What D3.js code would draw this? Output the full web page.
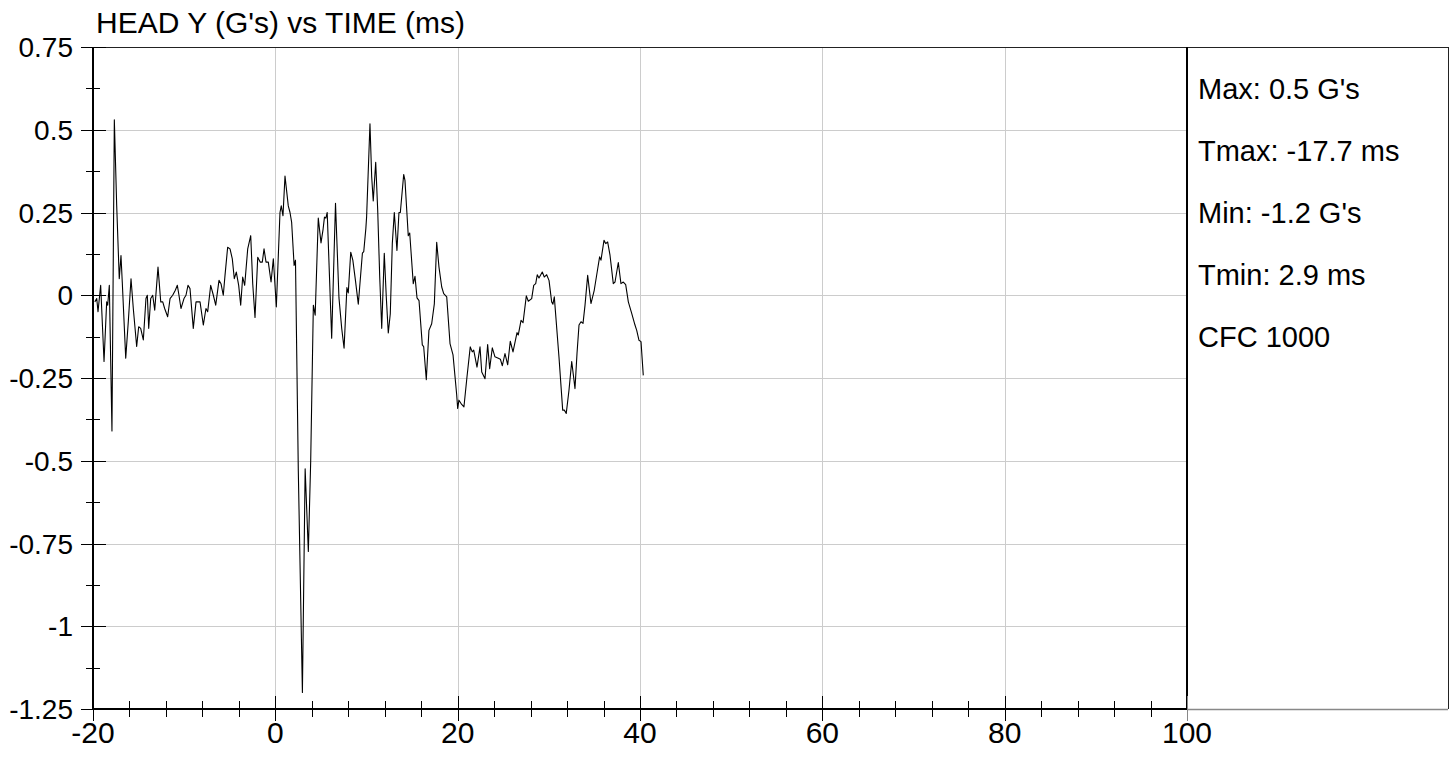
<!DOCTYPE html>
<html>
<head>
<meta charset="utf-8">
<script src="https://cdn.jsdelivr.net/npm/d3@7"></script>
<style>
  html, body { margin: 0; padding: 0; background: #fff; }
  svg { display: block; }
  text { font-family: "Liberation Sans", Arial, sans-serif; fill: #000; }
</style>
</head>
<body>
<svg id="chart" width="1454" height="759"></svg>
<script>
const titleText = "HEAD Y (G's) vs TIME (ms)";
const legendLines = ["Max: 0.5 G's", "Tmax: -17.7 ms", "Min: -1.2 G's", "Tmin: 2.9 ms", "CFC 1000"];

const xTickValues = [-20, 0, 20, 40, 60, 80, 100];
const xTickLabels = ["-20", "0", "20", "40", "60", "80", "100"];
const xMinorStep = 4;
const yTickValues = [0.75, 0.5, 0.25, 0, -0.25, -0.5, -0.75, -1, -1.25];
const yTickLabels = ["0.75", "0.5", "0.25", "0", "-0.25", "-0.5", "-0.75", "-1", "-1.25"];
const yMinorStep = 0.125;

// time (ms)
const timeMs = [
  -19.8, -19.59, -19.45, -19.16, -18.79, -18.50, -18.39, -18.21, -17.92, -17.66,
  -17.40, -17.12, -16.93, -16.79, -16.41, -16.13, -15.83, -15.58, -15.21, -14.99,
  -14.77, -14.48, -14.19, -14.04, -13.89, -13.67, -13.45, -13.23, -12.87, -12.57,
  -12.35, -12.14, -11.81, -11.55, -11.26, -10.97, -10.75, -10.57, -10.35, -10.02,
  -9.80, -9.58, -9.36, -9.00, -8.70, -8.52, -8.26, -7.90, -7.61, -7.42,
  -7.09, -6.80, -6.54, -6.18, -5.96, -5.71, -5.52, -5.23, -4.97, -4.72,
  -4.50, -4.28, -4.02, -3.80, -3.58, -3.36, -3.03, -2.70, -2.48, -2.23,
  -1.93, -1.65, -1.43, -1.24, -1.02, -0.77, -0.47, -0.22, 0.11, 0.51,
  0.65, 0.84, 1.06, 1.42, 1.61, 1.79, 2.06, 2.21, 2.52, 2.97,
  3.27, 3.62, 3.88, 4.17, 4.37, 4.71, 5.01, 5.24, 5.39, 5.54,
  5.69, 6.18, 6.60, 6.98, 7.28, 7.54, 7.85, 8.00, 8.27, 8.50,
  8.79, 9.10, 9.55, 9.70, 9.93, 10.01, 10.38, 10.57, 10.74, 11.01,
  11.23, 11.45, 11.67, 11.95, 12.17, 12.39, 12.61, 12.83, 13.05, 13.34,
  13.56, 13.71, 14.08, 14.22, 14.58, 14.74, 15.13, 15.32, 15.54, 15.76,
  16.12, 16.27, 16.56, 16.85, 17.15, 17.44, 17.70, 17.95, 18.25, 18.47,
  18.80, 19.16, 19.49, 19.89, 20.00, 20.14, 20.44, 20.69, 21.02, 21.38,
  21.60, 21.76, 22.12, 22.45, 22.64, 23.00, 23.29, 23.51, 23.80, 24.09,
  24.46, 24.68, 24.90, 25.19, 25.49, 25.77, 26.07, 26.51, 26.65, 26.95,
  27.17, 27.53, 27.75, 28.12, 28.34, 28.56, 28.73, 28.92, 29.28, 29.50,
  29.76, 30.02, 30.31, 30.45, 30.60, 31.11, 31.52, 31.70, 31.91, 32.21,
  32.51, 32.87, 33.09, 33.31, 33.53, 33.75, 33.97, 34.26, 34.62, 34.98,
  35.36, 35.57, 35.72, 36.05, 36.24, 36.45, 36.71, 37.07, 37.26, 37.62,
  37.91, 38.17, 38.43, 38.72, 39.09, 39.45, 39.64, 39.89, 40.11, 40.36
];
// head Y acceleration (G's)
const headY = [
  -0.02, -0.01, -0.05, 0.03, -0.20, -0.02, -0.03, 0.03, -0.41, 0.53,
  0.27, 0.05, 0.12, 0.04, -0.19, -0.08, 0.05, -0.04, -0.155, -0.095,
  -0.10, -0.135, -0.01, 0.0, -0.10, -0.01, 0.0, -0.045, 0.085, -0.02,
  -0.02, -0.04, -0.065, -0.01, 0.0, 0.015, 0.03, 0.0, -0.04, -0.01,
  0.0, 0.03, 0.02, -0.10, -0.02, -0.02, -0.02, -0.09, -0.04, -0.05,
  0.03, 0.0, -0.03, 0.045, 0.035, 0.0, 0.06, 0.145, 0.14, 0.11,
  0.05, 0.07, 0.03, -0.03, 0.055, 0.03, 0.14, 0.18, 0.035, -0.067,
  0.115, 0.10, 0.10, 0.14, 0.10, 0.10, 0.04, 0.11, -0.035, 0.25,
  0.27, 0.24, 0.36, 0.27, 0.25, 0.22, 0.09, 0.106, -0.53, -1.20,
  -0.524, -0.774, -0.50, -0.03, -0.06, 0.233, 0.158, 0.20, 0.236, 0.233,
  0.25, -0.13, 0.278, -0.008, -0.10, -0.16, 0.023, 0.007, 0.13, 0.106,
  0.044, -0.027, 0.127, 0.132, 0.202, 0.236, 0.518, 0.357, 0.285, 0.402,
  0.256, 0.055, -0.10, 0.127, -0.005, -0.114, -0.056, 0.156, 0.25, 0.135,
  0.25, 0.25, 0.365, 0.347, 0.18, 0.188, 0.035, 0.057, -0.008, -0.016,
  -0.15, -0.155, -0.255, -0.106, -0.086, -0.026, 0.16, 0.085, 0.025, 0.005,
  -0.005, -0.146, -0.18, -0.30, -0.342, -0.317, -0.33, -0.337, -0.247, -0.156,
  -0.171, -0.166, -0.217, -0.156, -0.232, -0.252, -0.149, -0.222, -0.159, -0.186,
  -0.19, -0.193, -0.213, -0.176, -0.21, -0.139, -0.171, -0.113, -0.12, -0.076,
  -0.083, -0.002, -0.018, -0.01, 0.03, 0.035, 0.062, 0.052, 0.07, 0.055,
  0.062, 0.045, -0.02, -0.027, -0.005, -0.186, -0.347, -0.347, -0.357, -0.287,
  -0.20, -0.282, -0.176, -0.09, -0.08, -0.085, -0.03, 0.06, -0.025, 0.015,
  0.08, 0.116, 0.106, 0.166, 0.156, 0.161, 0.121, 0.035, 0.04, 0.099,
  0.035, 0.04, 0.032, -0.02, -0.055, -0.09, -0.106, -0.136, -0.14, -0.242
];

const svg = d3.select("#chart");
const plotLeft = 93, plotRight = 1187, plotTop = 47, plotBottom = 709;
const legendRight = 1448;

const x = d3.scaleLinear().domain([-20, 100]).range([plotLeft, plotRight]);
const y = d3.scaleLinear().domain([-1.25, 0.75]).range([plotBottom, plotTop]);

// gridlines
const grid = svg.append("g").attr("stroke", "#cccccc").attr("stroke-width", 1);
xTickValues.filter(v => v > -20 && v < 100).forEach(v => {
  grid.append("line").attr("x1", Math.round(x(v)) + 0.5).attr("x2", Math.round(x(v)) + 0.5)
    .attr("y1", plotTop).attr("y2", plotBottom);
});
yTickValues.filter(v => v > -1.25 && v < 0.75).forEach(v => {
  grid.append("line").attr("x1", plotLeft).attr("x2", plotRight)
    .attr("y1", Math.round(y(v)) + 0.5).attr("y2", Math.round(y(v)) + 0.5);
});

// legend box + frame
svg.append("line").attr("x1", plotLeft).attr("x2", legendRight)
  .attr("y1", plotTop + 0.5).attr("y2", plotTop + 0.5).attr("stroke", "#222").attr("stroke-width", 1);
svg.append("line").attr("x1", legendRight + 0.5).attr("x2", legendRight + 0.5)
  .attr("y1", plotTop).attr("y2", plotBottom).attr("stroke", "#222").attr("stroke-width", 1);
svg.append("line").attr("x1", plotRight).attr("x2", legendRight)
  .attr("y1", plotBottom + 0.5).attr("y2", plotBottom + 0.5).attr("stroke", "#888").attr("stroke-width", 1.5);
svg.append("line").attr("x1", plotRight).attr("x2", plotRight)
  .attr("y1", plotTop).attr("y2", plotBottom).attr("stroke", "#000").attr("stroke-width", 2);

// curve
const line = d3.line().x((d, i) => x(timeMs[i])).y(d => y(d));
svg.append("path").datum(headY).attr("d", line)
  .attr("fill", "none").attr("stroke", "#000").attr("stroke-width", 1.1).attr("stroke-linejoin", "round");

// axes lines
svg.append("line").attr("x1", plotLeft).attr("x2", plotLeft)
  .attr("y1", plotTop).attr("y2", plotBottom + 1).attr("stroke", "#000").attr("stroke-width", 2);
svg.append("line").attr("x1", plotLeft).attr("x2", plotRight)
  .attr("y1", plotBottom).attr("y2", plotBottom).attr("stroke", "#000").attr("stroke-width", 2);

// y ticks
const yMinor = d3.range(-1.25, 0.75 + 1e-9, yMinorStep).filter(v => Math.abs(v / 0.25 - Math.round(v / 0.25)) > 1e-6);
yTickValues.forEach(v => {
  svg.append("line").attr("x1", plotLeft - 12).attr("x2", plotLeft + 13)
    .attr("y1", Math.round(y(v)) + 0.5).attr("y2", Math.round(y(v)) + 0.5).attr("stroke", "#000").attr("stroke-width", 1);
});
yMinor.forEach(v => {
  svg.append("line").attr("x1", plotLeft - 7).attr("x2", plotLeft + 7)
    .attr("y1", Math.round(y(v)) + 0.5).attr("y2", Math.round(y(v)) + 0.5).attr("stroke", "#000").attr("stroke-width", 1);
});
yTickValues.forEach((v, i) => {
  svg.append("text").attr("x", plotLeft - 20).attr("y", y(v)).attr("dy", "0.36em")
    .attr("text-anchor", "end").attr("font-size", 28).text(yTickLabels[i]);
});

// x ticks
const xMinor = d3.range(-20, 100 + 1e-9, xMinorStep).filter(v => v % 20 !== 0);
xTickValues.forEach(v => {
  svg.append("line").attr("x1", Math.round(x(v)) + 0.5).attr("x2", Math.round(x(v)) + 0.5)
    .attr("y1", plotBottom - 13).attr("y2", plotBottom + 12)
    .attr("stroke", v === 100 ? "#888" : "#000").attr("stroke-width", 1);
});
xMinor.forEach(v => {
  svg.append("line").attr("x1", Math.round(x(v)) + 0.5).attr("x2", Math.round(x(v)) + 0.5)
    .attr("y1", plotBottom - 8).attr("y2", plotBottom + 8).attr("stroke", "#000").attr("stroke-width", 1);
});
xTickValues.forEach((v, i) => {
  svg.append("text").attr("x", x(v)).attr("y", 743)
    .attr("text-anchor", "middle").attr("font-size", 30).text(xTickLabels[i]);
});

// title
svg.append("text").attr("x", 96).attr("y", 33).attr("font-size", 30).text(titleText);

// legend text
legendLines.forEach((t, i) => {
  svg.append("text").attr("x", 1198).attr("y", 99 + i * 62).attr("font-size", 29).text(t);
});
</script>
</body>
</html>
